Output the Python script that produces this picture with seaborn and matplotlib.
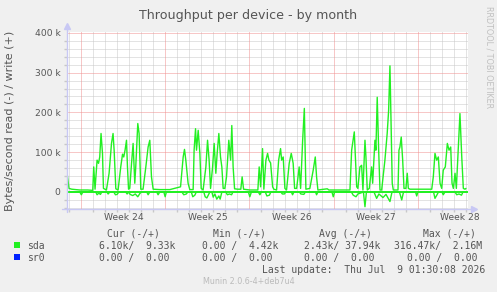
import numpy as np
import pandas as pd
import matplotlib
matplotlib.use("Agg")
import matplotlib.pyplot as plt
from matplotlib.patches import Rectangle
import seaborn as sns

# day 0 = Monday of week 24
week_labels = ["Week 24", "Week 25", "Week 26", "Week 27", "Week 28"]
week_starts = [0, 7, 14, 21, 28]

# sda write (+), kB/s
write_days = [-1.24, -1.03, -0.80, -0.47, -0.13, 0.53, 0.95, 1.03, 1.14, 1.31, 1.43, 1.53, 1.64, 1.76, 1.84,
              2.09, 2.31, 2.51, 2.64, 2.73, 2.87, 3.06, 3.28, 3.43, 3.53, 3.64, 3.76, 3.84, 3.93, 4.03,
              4.18, 4.31, 4.45, 4.53, 4.70, 4.81, 4.95, 5.14, 5.37, 5.56, 5.70, 5.84, 5.98, 6.53, 7.37,
              8.26, 8.48, 8.59, 8.70, 8.89, 9.03, 9.31, 9.39, 9.51, 9.59, 9.73, 9.87, 9.98, 10.14, 10.37,
              10.51, 10.64, 10.76, 10.93, 11.06, 11.20, 11.31, 11.45, 11.59, 11.70, 11.81, 11.95, 12.09,
              12.28, 12.43, 12.53, 12.64, 12.76, 13.03, 13.28, 13.39, 13.51, 14.03, 14.70, 14.81, 14.93,
              15.09, 15.20, 15.37, 15.51, 15.62, 15.76, 15.93, 16.03, 16.26, 16.43, 16.59, 16.68, 16.81,
              16.95, 17.09, 17.31, 17.48, 17.64, 17.76, 17.93, 18.14, 18.26, 18.43, 18.57, 18.70, 19.03,
              19.31, 19.48, 19.59, 19.70, 20.48, 20.62, 21.53, 22.37, 22.51, 22.73, 22.93, 23.03, 23.20,
              23.34, 23.45, 23.62, 23.70, 23.81, 23.98, 24.17, 24.26, 24.45, 24.53, 24.64, 24.76, 24.87,
              25.01, 25.28, 25.47, 25.59, 25.70, 25.78, 25.89, 25.98, 26.37, 26.45, 26.53, 26.64, 26.76,
              26.87, 27.03, 27.14, 27.23, 27.37, 28.20, 29.18, 29.31, 29.45, 29.59, 29.73, 29.87, 30.01,
              30.14, 30.31, 30.48, 30.62, 30.76, 30.87, 30.98, 31.12, 31.23, 31.43, 31.53, 31.68, 31.81,
              31.95, 32.03]
write_k = [60, 9, 7, 6, 5, 5, 4, 63, 7, 80, 72, 88, 147, 97, 9,
           5, 47, 122, 147, 105, 8, 5, 63, 95, 88, 105, 130, 63, 7, 9,
           72, 122, 22, 63, 172, 147, 7, 7, 63, 113, 130, 38, 7, 6, 6,
           13, 88, 107, 80, 22, 6, 6, 105, 159, 105, 155, 97, 9, 5, 63,
           130, 80, 9, 63, 122, 47, 97, 147, 88, 63, 9, 9, 38,
           130, 80, 167, 63, 8, 7, 7, 38, 7, 5, 5, 63, 13,
           109, 7, 80, 97, 80, 73, 13, 7, 5, 80, 109, 80, 88,
           9, 5, 72, 97, 72, 9, 9, 63, 9, 130, 210, 7, 9,
           55, 88, 38, 5, 8, 5, 5, 5, 105, 151, 13, 9, 63,
           67, 5, 130, 88, 5, 9, 63, 22, 130, 105, 238, 105, 5,
           5, 80, 147, 205, 317, 188, 22, 5, 5, 105, 113, 138, 80,
           9, 9, 47, 9, 7, 7, 7, 38, 97, 80, 88, 22, 9,
           55, 63, 122, 105, 113, 22, 9, 47, 9, 138, 197, 88, 9,
           7, 9]

# sda read (-), kB/s
read_days = [-1.24, -1.13, -0.13, 0.00, 0.12, 1.20, 1.31, 1.45, 1.59, 1.70, 2.12, 2.23, 2.37, 2.70, 2.84,
             2.98, 3.12, 3.70, 3.81, 3.95, 4.06, 4.28, 4.49, 4.70, 4.87, 5.00, 5.45, 5.56, 5.70, 6.28,
             6.39, 6.53, 6.87, 6.98, 7.08, 8.37, 8.53, 8.74, 8.87, 9.16, 9.28, 9.45, 9.57, 10.20, 10.31,
             10.45, 10.57, 10.70, 10.87, 10.98, 11.12, 11.28, 11.45, 11.56, 11.70, 12.03, 12.16, 12.33,
             12.51, 12.62, 13.91, 14.03, 14.16, 14.74, 14.87, 14.99, 15.32, 15.45, 15.66, 15.78, 16.62,
             16.74, 16.91, 17.03, 17.49, 17.59, 17.70, 18.16, 18.28, 18.53, 18.66, 19.50, 19.59, 19.70,
             20.87, 20.98, 21.09, 22.49, 22.64, 22.87, 23.03, 23.49, 23.62, 23.74, 24.37, 24.59, 24.78,
             25.12, 25.37, 25.70, 25.87, 26.49, 26.68, 26.83, 27.83, 27.93, 28.03, 29.33, 29.45, 29.62,
             29.74, 30.03, 30.14, 30.28, 31.12, 31.26, 31.45, 31.66, 31.78, 32.03]
read_k = [-3, 0, 0, -7, 0, 0, -7, -3, -6, 0, 0, -5, 0, 0, -7,
          -6, 0, 0, -5, 0, -6, -9, -5, -12, -4, 0, 0, -7, 0, 0,
          -7, 0, 0, -12, 0, 0, -7, -5, 0, 0, -12, -8, 0, 0, -12,
          -15, -8, 0, 0, -13, -5, -18, -10, -18, 0, 0, -7, -5,
          -7, 0, 0, -12, 0, 0, -7, 0, 0, -10, -8, 0, 0,
          -5, -5, 0, 0, -7, 0, 0, -5, -6, 0, 0, -7, 0,
          0, -12, 0, 0, -8, -12, -5, 0, -37, 0, 0, -16, -5,
          -14, -6, -24, 0, 0, -20, 0, 0, -10, 0, 0, -16, -7,
          0, 0, -7, 0, 0, -7, -5, -8, 0, 0]

legend_header = ["Cur (-/+)", "Min (-/+)", "Avg (-/+)", "Max (-/+)"]
sda_stats = ["6.10k/  9.33k", "0.00 /  4.42k", "2.43k/ 37.94k", "316.47k/  2.16M"]
sr0_stats = ["0.00 /  0.00", "0.00 /  0.00", "0.00 /  0.00", "0.00 /  0.00"]

sda_col = "#22f022"
sr0_col = "#0022ff"
txt = "#555555"
W, H = 497, 292

sns.set_theme(style="white")
plt.rcParams["font.family"] = ["DejaVu Sans"]

fig = plt.figure(figsize=(W / 100, H / 100), dpi=100, facecolor="#f0f0f0")
ax = fig.add_axes([66.7 / W, 1 - 208.7 / H, 401.3 / W, 176.7 / H])
ax.set_facecolor("white")

write = pd.DataFrame({"day": write_days, "bps": np.array(write_k) * 1000})
read = pd.DataFrame({"day": read_days, "bps": np.array(read_k) * 1000})

ax.set_xlim(-1.22, 32.2)
ax.set_ylim(-42000, 402000)

# grid
ax.set_xticks([d + 3.5 for d in week_starts])
ax.set_xticklabels(week_labels)
ax.set_xticks([d for d in range(-1, 33) if d % 7 != 0], minor=True)
ax.set_yticks([0, 100000, 200000, 300000, 400000])
ax.set_yticklabels(["0", "100 k", "200 k", "300 k", "400 k"])
ax.set_yticks([v for v in range(-40000, 400001, 20000) if v % 100000 != 0], minor=True)
ax.grid(False)
ax.grid(which="minor", color="#c8c8c8", lw=0.72, ls=(0, (1, 1)))
for d in week_starts:
    ax.axvline(d, color="#f09090", lw=0.72, ls=(0, (1, 1)))
for v in [100000, 200000, 300000, 400000]:
    ax.axhline(v, color="#f09090", lw=0.72, ls=(0, (1, 1)))

ax.tick_params(axis="x", which="major", length=0, pad=3.2, labelsize=6.6, labelcolor=txt)
ax.tick_params(axis="y", which="major", length=2, pad=2.5, labelsize=6.6, labelcolor=txt, color="#f09090")
ax.tick_params(which="minor", length=2, color="#c8c8c8")
ax.tick_params(axis="x", which="minor", bottom=True)
ax.tick_params(axis="y", which="minor", left=True)

sns.lineplot(data=read, x="day", y="bps", ax=ax, color=sda_col, lw=1.0, estimator=None)
sns.lineplot(data=write, x="day", y="bps", ax=ax, color=sda_col, lw=1.0, estimator=None)
ax.axhline(0, color=sda_col, lw=1.4)
ax.set_xlabel("")
ax.set_ylabel("")

for s in ax.spines.values():
    s.set_visible(False)
axc = "#c8c8f4"
ax.plot([0, 0], [-0.02, 1.03], color=axc, lw=1, transform=ax.transAxes, clip_on=False)
ax.plot([-0.012, 1.012], [0, 0], color=axc, lw=1, transform=ax.transAxes, clip_on=False)
ax.plot([0], [1.035], marker="^", ms=4, color=axc, transform=ax.transAxes, clip_on=False)
ax.plot([1.015], [0], marker=">", ms=4, color=axc, transform=ax.transAxes, clip_on=False)

# texts
def fx(px):
    return px / W

def fy(py):
    return 1 - py / H

fig.text(fx(248.5), fy(18.5), "Throughput per device - by month", ha="center", va="baseline",
         fontsize=9.1, color=txt)
fig.text(fx(10), fy(121), "Bytes/second read (-) / write (+)", rotation=90, ha="center", va="center",
         fontsize=8, color=txt)
fig.text(fx(488.7), fy(56.7), "RRDTOOL / TOBI OETIKER", rotation=270, ha="center", va="center",
         fontsize=5.8, color="#c0c0c0")

mono = "DejaVu Sans Mono"
head_x = [107.3, 213.3, 319.0, 423.3]
sda_x = [99.3, 201.7, 304.3, 394.3]
sr0_x = [99.3, 201.7, 304.3, 406.7]
for x, s in zip(head_x, legend_header):
    fig.text(fx(x), fy(236.7), s, family=mono, fontsize=7, color=txt, va="baseline")
fig.text(fx(26.7), fy(248.7), "sda", family=mono, fontsize=7, color=txt, va="baseline")
fig.text(fx(26.7), fy(260.7), "sr0", family=mono, fontsize=7, color=txt, va="baseline")
for x, s in zip(sda_x, sda_stats):
    fig.text(fx(x), fy(248.7), s, family=mono, fontsize=7, color=txt, va="baseline")
for x, s in zip(sr0_x, sr0_stats):
    fig.text(fx(x), fy(260.7), s, family=mono, fontsize=7, color=txt, va="baseline")
fig.text(fx(261.7), fy(273), "Last update:  Thu Jul  9 01:30:08 2026", family=mono, fontsize=7,
         color=txt, va="baseline")
fig.text(fx(203), fy(284), "Munin 2.0.6-4+deb7u4", fontsize=5.8, color="#bbbbbb", va="baseline")

fig.patches.append(Rectangle((fx(14), fy(247.7)), 6 / W, 6 / H, transform=fig.transFigure,
                             facecolor=sda_col, edgecolor="none"))
fig.patches.append(Rectangle((fx(14), fy(260.3)), 6 / W, 6 / H, transform=fig.transFigure,
                             facecolor=sr0_col, edgecolor="none"))

fig.savefig("out.png", dpi=100, facecolor=fig.get_facecolor())
